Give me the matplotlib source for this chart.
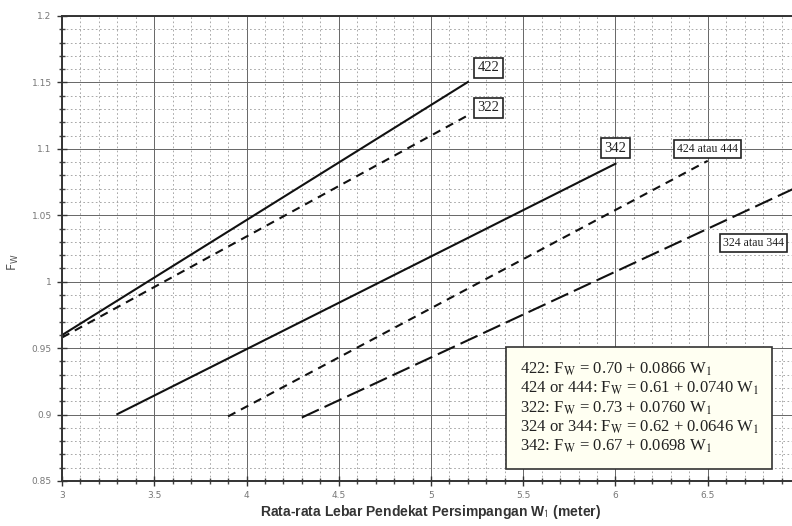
import matplotlib
matplotlib.use("Agg")
import matplotlib.pyplot as plt
from matplotlib.ticker import MultipleLocator, FuncFormatter

# line segments: name, start W1, end W1, intercept, slope
names = ["422", "322", "342", "424 atau 444", "324 atau 344"]
w_start = [3.0, 3.0, 3.3, 3.9, 4.3]
w_end = [5.2, 5.2, 6.0, 6.5, 7.0]
intercept = [0.70, 0.73, 0.67, 0.61, 0.62]
slope = [0.0866, 0.0760, 0.0698, 0.0740, 0.0646]
label_x = [5.31, 5.31, 6.0, 6.5, 6.75]
label_y = [1.161, 1.131, 1.1006, 1.100, 1.029]

equations = [
    "422: F$_\\mathrm{W}$ = 0.70 + 0.0866 W$_\\mathrm{1}$",
    "424 or 444: F$_\\mathrm{W}$ = 0.61 + 0.0740 W$_\\mathrm{1}$",
    "322: F$_\\mathrm{W}$ = 0.73 + 0.0760 W$_\\mathrm{1}$",
    "324 or 344: F$_\\mathrm{W}$ = 0.62 + 0.0646 W$_\\mathrm{1}$",
    "342: F$_\\mathrm{W}$ = 0.67 + 0.0698 W$_\\mathrm{1}$",
]

styles = [
    dict(ls="-"),
    dict(ls=(0, (4, 3))),
    dict(ls="-"),
    dict(ls=(0, (4, 3))),
    dict(ls=(0, (9, 3))),
]
label_size = [10.5, 10.5, 10.5, 8.5, 8.5]

fig = plt.figure(figsize=(7.92, 5.26), dpi=100)
ax = fig.add_axes([62 / 792, 1 - 481 / 526, (800 - 62) / 792, (481 - 16) / 526])

for i in range(len(names)):
    xs = [w_start[i], w_end[i]]
    ys = [intercept[i] + slope[i] * x for x in xs]
    ax.plot(xs, ys, color="#111111", lw=1.5, **styles[i])
    ax.text(label_x[i], label_y[i], names[i], fontsize=label_size[i],
            family="Liberation Serif", ha="center", va="center", color="#222222",
            bbox=dict(boxstyle="square,pad=0.25", fc="white", ec="#222222", lw=1.2))

ax.text(5.48, 0.905, "\n".join(equations), fontsize=12, family="Liberation Serif",
        math_fontfamily="stix", va="center", ha="left", linespacing=1.15, color="#222222",
        bbox=dict(boxstyle="square,pad=0.8", fc="#fffff2", ec="#333333", lw=1.2))

ax.set_xlim(3, 7)
ax.set_ylim(0.85, 1.2)
ax.xaxis.set_major_locator(MultipleLocator(0.5))
ax.xaxis.set_minor_locator(MultipleLocator(0.1))
ax.yaxis.set_major_locator(MultipleLocator(0.05))
ax.yaxis.set_minor_locator(MultipleLocator(0.01))
fmt = FuncFormatter(lambda v, p: "" if v > 6.9 else f"{v:g}")
ax.xaxis.set_major_formatter(fmt)
ax.yaxis.set_major_formatter(FuncFormatter(lambda v, p: f"{v:g}"))

ax.grid(True, which="major", color="#666666", lw=0.7)
ax.grid(True, which="minor", color="#9a9a9a", lw=0.6, ls=(0, (2, 3)))
ax.set_axisbelow(True)

ax.tick_params(which="major", direction="inout", length=7, width=1.0,
               labelsize=6.5, labelcolor="#777777", color="#333333", pad=4)
ax.tick_params(which="minor", direction="inout", length=4, width=1.0, color="#444444")
for s in ["left", "bottom", "top"]:
    ax.spines[s].set_color("#333333")
    ax.spines[s].set_linewidth(1.4)

ax.set_xlabel("Rata-rata Lebar Pendekat Persimpangan W$_\\mathrm{1}$ (meter)",
              fontsize=10, fontweight="bold", family="Liberation Sans",
              math_fontfamily="stixsans", color="#333333", labelpad=2)
ax.set_ylabel("F$_\\mathrm{W}$", fontsize=9, color="#555555")
ax.yaxis.set_label_coords(-0.055, 0.47)

fig.savefig("out.png", dpi=100, facecolor="white")
